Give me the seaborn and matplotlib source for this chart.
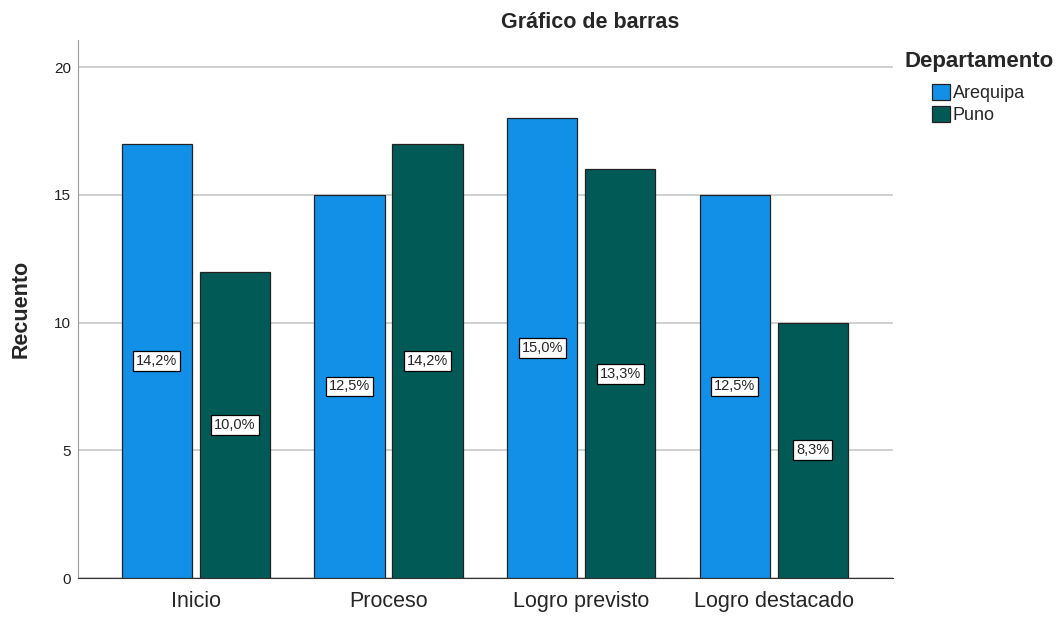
import pandas as pd
import matplotlib.pyplot as plt
import seaborn as sns

# Datos
categorias = ["Inicio", "Proceso", "Logro previsto", "Logro destacado"]
arequipa = [17, 15, 18, 15]
puno = [12, 17, 16, 10]
departamentos = ["Arequipa", "Puno"]

df = pd.DataFrame({
    "Nivel": categorias * 2,
    "Departamento": ["Arequipa"] * 4 + ["Puno"] * 4,
    "Recuento": arequipa + puno,
})
total = df["Recuento"].sum()

sns.set_style("white")
plt.rcParams["font.family"] = ["Liberation Sans", "DejaVu Sans"]

fig = plt.figure(figsize=(10.62, 6.17), dpi=100)
ax = fig.add_axes([0.0734, 0.0632, 0.7675, 0.8718])

colores = {"Arequipa": "#1290E8", "Puno": "#025A57"}
sns.barplot(data=df, x="Nivel", y="Recuento", hue="Departamento",
            order=categorias, hue_order=departamentos, palette=colores,
            width=0.81, gap=0.1, edgecolor="#222222", linewidth=0.9,
            saturation=1, ax=ax, zorder=3)

# Etiquetas de porcentaje en el centro de cada barra
for cont in ax.containers:
    for rect in cont:
        h = rect.get_height()
        pct = f"{h / total * 100:.1f}%".replace(".", ",")
        ax.text(rect.get_x() + rect.get_width() / 2, h / 2, pct,
                ha="center", va="center", fontsize=10.5, zorder=5,
                bbox=dict(boxstyle="square,pad=0.2", fc="white", ec="black", lw=0.9))

ax.set_ylim(0, 21.06)
ax.set_xlim(-0.612, 3.618)
ax.set_yticks([0, 5, 10, 15, 20])
ax.yaxis.grid(True, color="#c8c8c8", linewidth=1.2, zorder=0)
ax.set_axisbelow(True)
for s in ["top", "right"]:
    ax.spines[s].set_visible(False)
ax.spines["left"].set_color("#999999")
ax.spines["bottom"].set_color("#333333")
ax.tick_params(axis="y", labelsize=11, colors="#222222", length=0, pad=5)
ax.tick_params(axis="x", labelsize=15.5, length=0, pad=9)
ax.set_xlabel("")
ax.set_ylabel("Recuento", fontsize=15.5, fontweight="bold", labelpad=16)

fig.text(590 / 1062, 1 - 22 / 617, "Gráfico de barras", ha="center", va="center",
         fontsize=15.5, fontweight="bold")
fig.text(905 / 1062, 1 - 62 / 617, "Departamento", ha="left", va="center",
         fontsize=16, fontweight="bold")

ax.legend(loc="upper left", bbox_to_anchor=(932 / 1062, 1 - 84 / 617),
          bbox_transform=fig.transFigure, frameon=False, fontsize=13,
          borderpad=0, borderaxespad=0,
          handlelength=1.0, handleheight=1.0, handletextpad=0.15, labelspacing=0.2)
for p in ax.get_legend().get_patches():
    p.set_edgecolor("#222222")

fig.savefig("out.png", dpi=100)
